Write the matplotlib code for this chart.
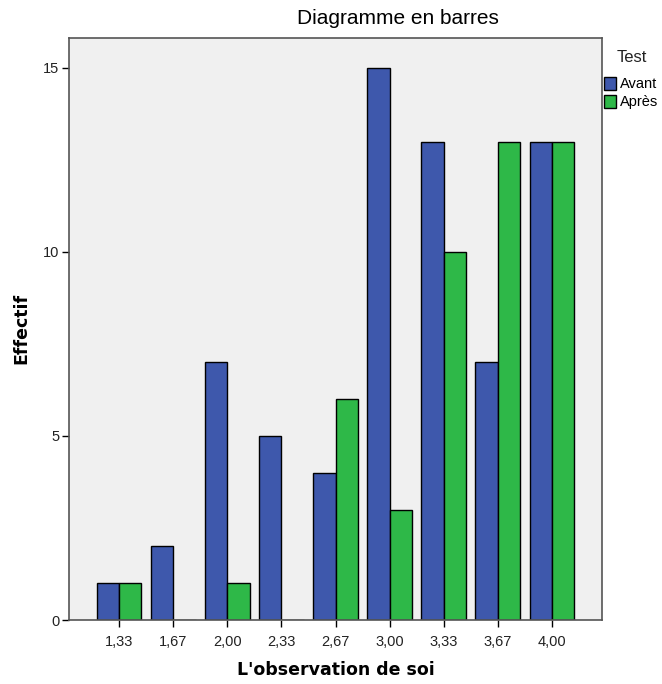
import numpy as np
import matplotlib
matplotlib.use('Agg')
import matplotlib.pyplot as plt
from matplotlib.patches import Patch

# Donnees
categories = ['1,33', '1,67', '2,00', '2,33', '2,67', '3,00', '3,33', '3,67', '4,00']
avant = [1, 2, 7, 5, 4, 15, 13, 7, 13]
apres = [1, 0, 1, 0, 6, 3, 10, 13, 13]

plt.rcParams['font.family'] = ['Liberation Sans', 'DejaVu Sans']

fig = plt.figure(figsize=(6.62, 6.84), dpi=100)
ax = fig.add_axes([69 / 662, 64 / 684, 533 / 662, 582 / 684])
ax.set_facecolor('#F0F0F0')

x = np.arange(len(categories))
w = 0.415
bleu = '#3E58AC'
vert = '#2EB848'
ax.bar(x - w / 2, avant, w, color=bleu, edgecolor='black', linewidth=1)
ax.bar(x + w / 2, apres, w, color=vert, edgecolor='black', linewidth=1)

ax.set_xlim(-0.924, 8.924)
ax.set_ylim(0, 15.815)
ax.set_xticks(x)
ax.set_xticklabels(categories)
ax.set_yticks([0, 5, 10, 15])
ax.tick_params(axis='both', length=5, width=1, color='black', labelsize=10.5,
               labelcolor='#222222')
ax.tick_params(axis='x', pad=6)
ax.tick_params(axis='y', pad=2)
for s in ax.spines.values():
    s.set_color('#555555')
    s.set_linewidth(1.2)

fig.text(398 / 662, 1 - 18 / 684, 'Diagramme en barres', ha='center', va='center',
         fontsize=15, color='black')
fig.text(21 / 662, 1 - 328 / 684, 'Effectif', rotation=90, ha='center', va='center',
         fontsize=12.5, fontweight='bold', family='DejaVu Sans', color='black')
fig.text(336 / 662, 1 - 670 / 684, "L'observation de soi", ha='center', va='center',
         fontsize=12.5, fontweight='bold', family='DejaVu Sans', color='black')

fig.text(632 / 662, 1 - 57 / 684, 'Test', ha='center', va='center', fontsize=12,
         color='#222222')
handles = [Patch(facecolor=bleu, edgecolor='black'), Patch(facecolor=vert, edgecolor='black')]
fig.legend(handles, ['Avant', 'Après'], loc='upper left',
           bbox_to_anchor=(604 / 662, 1 - 77 / 684), frameon=False, fontsize=10.5,
           handlelength=0.82, handleheight=0.96, handletextpad=0.3, labelspacing=0.25,
           borderaxespad=0, borderpad=0)

fig.savefig('out.png', dpi=100)
